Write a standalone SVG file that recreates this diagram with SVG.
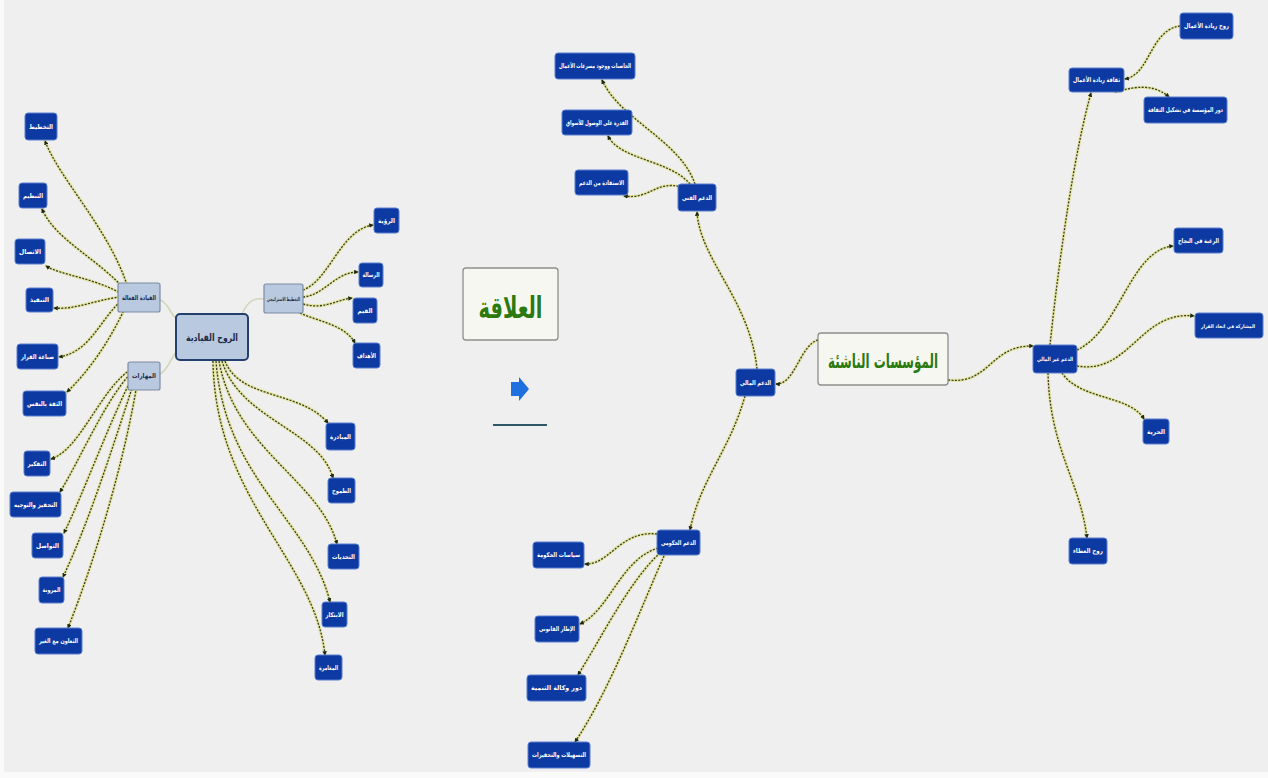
<svg xmlns="http://www.w3.org/2000/svg" width="1268" height="778" viewBox="0 0 1268 778">
<style>
.bg{fill:#efefef}
.n rect{fill:#0c3aa2;stroke:#5a7fd0;stroke-width:1}
.n text{fill:#ffffff;font-family:"DejaVu Sans",sans-serif;font-size:6.5px;font-weight:bold;text-anchor:middle}
.h rect{fill:#b9c9e0;stroke:#7d8ba6;stroke-width:1.2}
.h text{fill:#1d2a44;font-family:"DejaVu Sans",sans-serif;font-size:6.5px;font-weight:bold;text-anchor:middle}
.g{fill:none;stroke:#e4e6a6;stroke-width:3.2;stroke-linecap:round}
.e{fill:none;stroke:#3c3c22;stroke-width:1.3;stroke-dasharray:2 1.4;marker-end:url(#ah)}
.l{fill:none;stroke:#cfd6b8;stroke-width:1.6}
.t text{font-family:"DejaVu Sans",sans-serif;font-weight:bold;fill:#2a7a10;text-anchor:middle}
</style>
<defs>
<marker id="ah" viewBox="0 0 6 6" refX="5" refY="3" markerWidth="3.5" markerHeight="3.5" orient="auto">
<path d="M0,0 L6,3 L0,6 z" fill="#1e2a10"/>
</marker>
</defs>
<rect class="bg" x="0" y="0" width="1268" height="778"/>
<rect x="0" y="0" width="4" height="778" fill="#fafafa"/>
<rect x="0" y="772" width="1268" height="6" fill="#fafafa"/>

<g id="connectors">
<path class="l" d="M160,300 C168,302 170,314 176,318"/>
<path class="l" d="M176,352 C170,360 168,370 160,374"/>
<path class="l" d="M242,314 C248,300 255,298 264,299"/>
<g>
<path class="g" d="M128,288 C110,230 60,180 45,141"/><path class="e" d="M128,288 C110,230 60,180 45,141"/>
<path class="g" d="M125,290 C100,260 55,240 42,209"/><path class="e" d="M125,290 C100,260 55,240 42,209"/>
<path class="g" d="M122,294 C95,278 60,275 46,266"/><path class="e" d="M122,294 C95,278 60,275 46,266"/>
<path class="g" d="M120,297 C95,300 75,310 54,308"/><path class="e" d="M120,297 C95,300 75,310 54,308"/>
<path class="g" d="M120,302 C100,320 90,352 59,357"/><path class="e" d="M120,302 C100,320 90,352 59,357"/>
<path class="g" d="M125,308 C110,340 90,370 67,392"/><path class="e" d="M125,308 C110,340 90,370 67,392"/>
<path class="g" d="M130,370 C100,390 80,450 51,459"/><path class="e" d="M130,370 C100,390 80,450 51,459"/>
<path class="g" d="M132,372 C105,400 80,460 60,492"/><path class="e" d="M132,372 C105,400 80,460 60,492"/>
<path class="g" d="M134,374 C110,420 85,490 64,533"/><path class="e" d="M134,374 C110,420 85,490 64,533"/>
<path class="g" d="M136,376 C115,440 90,520 63,577"/><path class="e" d="M136,376 C115,440 90,520 63,577"/>
<path class="g" d="M138,378 C125,460 95,560 68,628"/><path class="e" d="M138,378 C125,460 95,560 68,628"/>
<path class="g" d="M303,290 C330,280 340,230 373,225"/><path class="e" d="M303,290 C330,280 340,230 373,225"/>
<path class="g" d="M303,297 C325,295 335,272 358,272"/><path class="e" d="M303,297 C325,295 335,272 358,272"/>
<path class="g" d="M303,304 C325,310 335,300 352,298"/><path class="e" d="M303,304 C325,310 335,300 352,298"/>
<path class="g" d="M300,313 C320,322 345,325 355,343"/><path class="e" d="M300,313 C320,322 345,325 355,343"/>
<path class="g" d="M225,361 C240,400 300,390 328,423"/><path class="e" d="M225,361 C240,400 300,390 328,423"/>
<path class="g" d="M222,361 C240,420 320,430 333,478"/><path class="e" d="M222,361 C240,420 320,430 333,478"/>
<path class="g" d="M219,361 C235,450 320,480 337,544"/><path class="e" d="M219,361 C235,450 320,480 337,544"/>
<path class="g" d="M216,361 C225,480 310,520 330,602"/><path class="e" d="M216,361 C225,480 310,520 330,602"/>
<path class="g" d="M213,361 C215,500 315,560 325,655"/><path class="e" d="M213,361 C215,500 315,560 325,655"/>
</g>
<g>
<path class="g" d="M818,340 C800,345 795,385 776,384"/><path class="e" d="M818,340 C800,345 795,385 776,384"/>
<path class="g" d="M757,369 C750,300 700,260 697,212"/><path class="e" d="M757,369 C750,300 700,260 697,212"/>
<path class="g" d="M695,184 C680,140 620,120 602,80"/><path class="e" d="M695,184 C680,140 620,120 602,80"/>
<path class="g" d="M690,184 C670,160 620,160 608,136"/><path class="e" d="M690,184 C670,160 620,160 608,136"/>
<path class="g" d="M682,187 C655,180 650,200 624,196"/><path class="e" d="M682,187 C655,180 650,200 624,196"/>
<path class="g" d="M745,396 C730,450 700,480 690,530"/><path class="e" d="M745,396 C730,450 700,480 690,530"/>
<path class="g" d="M657,534 C620,530 610,565 585,564"/><path class="e" d="M657,534 C620,530 610,565 585,564"/>
<path class="g" d="M658,548 C620,560 610,610 580,624"/><path class="e" d="M658,548 C620,560 610,610 580,624"/>
<path class="g" d="M660,553 C630,580 600,640 578,675"/><path class="e" d="M660,553 C630,580 600,640 578,675"/>
<path class="g" d="M664,556 C640,610 610,690 575,742"/><path class="e" d="M664,556 C640,610 610,690 575,742"/>
<path class="g" d="M948,380 C990,385 990,345 1033,346"/><path class="e" d="M948,380 C990,385 990,345 1033,346"/>
<path class="g" d="M1050,345 C1060,250 1075,150 1091,93"/><path class="e" d="M1050,345 C1060,250 1075,150 1091,93"/>
<path class="g" d="M1077,350 C1120,330 1130,250 1173,246"/><path class="e" d="M1077,350 C1120,330 1130,250 1173,246"/>
<path class="g" d="M1077,366 C1130,375 1140,310 1194,316"/><path class="e" d="M1077,366 C1130,375 1140,310 1194,316"/>
<path class="g" d="M1062,373 C1080,400 1130,395 1144,419"/><path class="e" d="M1062,373 C1080,400 1130,395 1144,419"/>
<path class="g" d="M1048,373 C1050,450 1080,480 1087,538"/><path class="e" d="M1048,373 C1050,450 1080,480 1087,538"/>
<path class="g" d="M1180,26 C1150,30 1150,75 1125,79"/><path class="e" d="M1180,26 C1150,30 1150,75 1125,79"/>
<path class="g" d="M1115,92 C1125,90 1150,80 1169,97"/><path class="e" d="M1115,92 C1125,90 1150,80 1169,97"/>
</g>
</g>

<!-- left mind map -->
<g id="center-left" class="h"><rect x="176" y="314" width="72" height="46" rx="4" style="stroke:#23406e;stroke-width:2"/><text x="212" y="341" textLength="52" lengthAdjust="spacingAndGlyphs" style="font-size:10px">الروح القيادية</text></g>
<g id="hub-leadership" class="h"><rect x="118" y="283" width="42" height="29" rx="2"/><text x="139" y="300" textLength="34" lengthAdjust="spacingAndGlyphs">القيادة الفعالة</text></g>
<g id="hub-skills" class="h"><rect x="128" y="362" width="32" height="28" rx="2"/><text x="144" y="378" textLength="24" lengthAdjust="spacingAndGlyphs">المهارات</text></g>
<g id="hub-strategy" class="h"><rect x="264" y="284" width="39" height="29" rx="2"/><text x="283.5" y="301" textLength="33" lengthAdjust="spacingAndGlyphs" style="font-size:5.5px">التخطيط الاستراتيجي</text></g>

<g id="l1" class="n"><rect x="25" y="113" width="32" height="27" rx="3"/><text x="41" y="129" textLength="24" lengthAdjust="spacingAndGlyphs">التخطيط</text></g>
<g id="l2" class="n"><rect x="19" y="183" width="28" height="25" rx="3"/><text x="33" y="198" textLength="20" lengthAdjust="spacingAndGlyphs">التنظيم</text></g>
<g id="l3" class="n"><rect x="15" y="239" width="30" height="25" rx="3"/><text x="30" y="254" textLength="22" lengthAdjust="spacingAndGlyphs">الاتصال</text></g>
<g id="l4" class="n"><rect x="26" y="288" width="27" height="24" rx="3"/><text x="39.5" y="302" textLength="19" lengthAdjust="spacingAndGlyphs">التنفيذ</text></g>
<g id="l5" class="n"><rect x="17" y="344" width="41" height="25" rx="3"/><text x="37.5" y="359" textLength="33" lengthAdjust="spacingAndGlyphs">صناعة القرار</text></g>
<g id="l6" class="n"><rect x="23" y="391" width="43" height="25" rx="3"/><text x="44.5" y="406" textLength="35" lengthAdjust="spacingAndGlyphs">الثقة بالنفس</text></g>
<g id="l7" class="n"><rect x="24" y="451" width="26" height="25" rx="3"/><text x="37" y="466" textLength="19" lengthAdjust="spacingAndGlyphs">التفكير</text></g>
<g id="l8" class="n"><rect x="10" y="492" width="51" height="25" rx="3"/><text x="35.5" y="507" textLength="43" lengthAdjust="spacingAndGlyphs">التحفيز والتوجيه</text></g>
<g id="l9" class="n"><rect x="32" y="533" width="31" height="25" rx="3"/><text x="47.5" y="548" textLength="23" lengthAdjust="spacingAndGlyphs">التواصل</text></g>
<g id="l10" class="n"><rect x="39" y="577" width="25" height="26" rx="3"/><text x="51.5" y="592" textLength="18" lengthAdjust="spacingAndGlyphs">المرونة</text></g>
<g id="l11" class="n"><rect x="35" y="628" width="47" height="26" rx="3"/><text x="58.5" y="643" textLength="39" lengthAdjust="spacingAndGlyphs">التعاون مع الغير</text></g>
<g id="s1" class="n"><rect x="374" y="208" width="25" height="25" rx="3"/><text x="386.5" y="223" textLength="17" lengthAdjust="spacingAndGlyphs">الرؤية</text></g>
<g id="s2" class="n"><rect x="359" y="263" width="24" height="24" rx="3"/><text x="371" y="277" textLength="17" lengthAdjust="spacingAndGlyphs">الرسالة</text></g>
<g id="s3" class="n"><rect x="353" y="298" width="24" height="25" rx="3"/><text x="365" y="313" textLength="15" lengthAdjust="spacingAndGlyphs">القيم</text></g>
<g id="s4" class="n"><rect x="353" y="343" width="27" height="25" rx="3"/><text x="366.5" y="358" textLength="19" lengthAdjust="spacingAndGlyphs">الأهداف</text></g>
<g id="b1" class="n"><rect x="326" y="423" width="29" height="27" rx="3"/><text x="340.5" y="439" textLength="21" lengthAdjust="spacingAndGlyphs">المبادرة</text></g>
<g id="b2" class="n"><rect x="328" y="478" width="27" height="25" rx="3"/><text x="341.5" y="493" textLength="19" lengthAdjust="spacingAndGlyphs">الطموح</text></g>
<g id="b3" class="n"><rect x="328" y="544" width="31" height="25" rx="3"/><text x="343.5" y="559" textLength="23" lengthAdjust="spacingAndGlyphs">التحديات</text></g>
<g id="b4" class="n"><rect x="322" y="602" width="25" height="25" rx="3"/><text x="334.5" y="617" textLength="18" lengthAdjust="spacingAndGlyphs">الابتكار</text></g>
<g id="b5" class="n"><rect x="315" y="655" width="27" height="25" rx="3"/><text x="328.5" y="670" textLength="19" lengthAdjust="spacingAndGlyphs">المغامرة</text></g>

<!-- middle -->
<g id="relation" class="t"><rect x="463" y="268" width="95" height="72" rx="3" fill="#f7f7f2" stroke="#8e8e8a" stroke-width="1.3"/><text x="510.5" y="318" textLength="64" lengthAdjust="spacingAndGlyphs" style="font-size:30px">العلاقة</text></g>
<g id="arrow-icon"><path d="M511,382 L519,382 L519,377 L529,389 L519,401 L519,396 L511,396 z" fill="#1e6fe0"/></g>
<g id="underline"><line x1="493" y1="425" x2="547" y2="425" stroke="#2d5a66" stroke-width="2"/></g>

<!-- right mind map -->
<g id="startups" class="t"><rect x="818" y="333" width="130" height="52" rx="3" fill="#f7f7f2" stroke="#8e8e8a" stroke-width="1.3"/><text x="883" y="368" textLength="110" lengthAdjust="spacingAndGlyphs" style="font-size:20px">المؤسسات الناشئة</text></g>
<g id="r-main" class="n"><rect x="736" y="369" width="39" height="27" rx="3"/><text x="755.5" y="385" textLength="31" lengthAdjust="spacingAndGlyphs">الدعم المالي</text></g>
<g id="r-top" class="n"><rect x="678" y="184" width="38" height="27" rx="3"/><text x="697" y="200" textLength="30" lengthAdjust="spacingAndGlyphs">الدعم الفني</text></g>
<g id="rt1" class="n"><rect x="555" y="53" width="80" height="26" rx="3"/><text x="595" y="68" textLength="72" lengthAdjust="spacingAndGlyphs">الحاضنات ووجود مسرعات الأعمال</text></g>
<g id="rt2" class="n"><rect x="562" y="110" width="70" height="25" rx="3"/><text x="597" y="125" textLength="62" lengthAdjust="spacingAndGlyphs">القدرة على الوصول للأسواق</text></g>
<g id="rt3" class="n"><rect x="575" y="170" width="53" height="25" rx="3"/><text x="601.5" y="185" textLength="45" lengthAdjust="spacingAndGlyphs">الاستفادة من الدعم</text></g>
<g id="r-bottom" class="n"><rect x="657" y="530" width="43" height="25" rx="3"/><text x="678.5" y="545" textLength="35" lengthAdjust="spacingAndGlyphs">الدعم الحكومي</text></g>
<g id="rb1" class="n"><rect x="533" y="542" width="51" height="26" rx="3"/><text x="558.5" y="557" textLength="43" lengthAdjust="spacingAndGlyphs">سياسات الحكومة</text></g>
<g id="rb2" class="n"><rect x="535" y="616" width="44" height="26" rx="3"/><text x="557" y="631" textLength="36" lengthAdjust="spacingAndGlyphs">الإطار القانوني</text></g>
<g id="rb3" class="n"><rect x="527" y="675" width="59" height="26" rx="3"/><text x="556.5" y="690" textLength="51" lengthAdjust="spacingAndGlyphs">دور وكالة التنمية</text></g>
<g id="rb4" class="n"><rect x="528" y="742" width="62" height="26" rx="3"/><text x="559" y="757" textLength="54" lengthAdjust="spacingAndGlyphs">التسهيلات والتحفيزات</text></g>
<g id="r-right" class="n"><rect x="1033" y="345" width="44" height="28" rx="3"/><text x="1055" y="361" textLength="36" lengthAdjust="spacingAndGlyphs" style="font-size:5.5px">الدعم غير المالي</text></g>
<g id="rr1" class="n"><rect x="1174" y="228" width="49" height="25" rx="3"/><text x="1198.5" y="243" textLength="41" lengthAdjust="spacingAndGlyphs">الرغبة في النجاح</text></g>
<g id="rr2" class="n"><rect x="1195" y="313" width="68" height="25" rx="3"/><text x="1228" y="328" textLength="54" lengthAdjust="spacingAndGlyphs" style="font-size:5px">المشاركة في اتخاذ القرار</text></g>
<g id="rr3" class="n"><rect x="1143" y="419" width="26" height="25" rx="3"/><text x="1156" y="434" textLength="18" lengthAdjust="spacingAndGlyphs">الحرية</text></g>
<g id="rr4" class="n"><rect x="1069" y="538" width="38" height="26" rx="3"/><text x="1088" y="553" textLength="30" lengthAdjust="spacingAndGlyphs">روح العطاء</text></g>
<g id="culture" class="n"><rect x="1069" y="68" width="55" height="24" rx="3"/><text x="1096.5" y="82" textLength="47" lengthAdjust="spacingAndGlyphs">ثقافة ريادة الأعمال</text></g>
<g id="c1" class="n"><rect x="1180" y="13" width="53" height="26" rx="3"/><text x="1206.5" y="28" textLength="45" lengthAdjust="spacingAndGlyphs">روح ريادة الأعمال</text></g>
<g id="c2" class="n"><rect x="1144" y="97" width="83" height="26" rx="3"/><text x="1185.5" y="112" textLength="75" lengthAdjust="spacingAndGlyphs">دور المؤسسة في تشكيل الثقافة</text></g>
</svg>
